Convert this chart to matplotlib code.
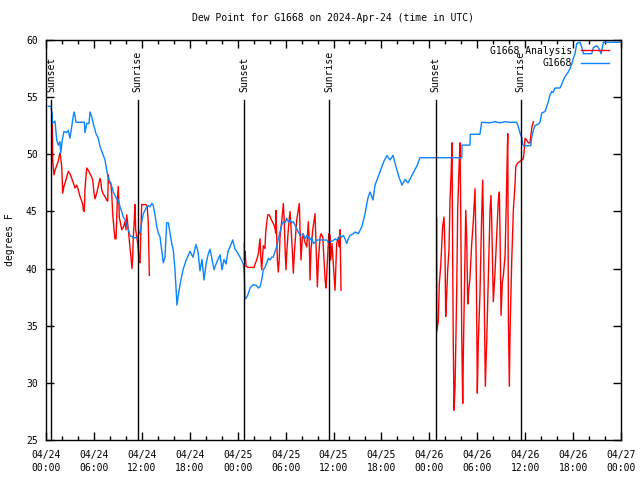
import datetime as dt
import numpy as np
import matplotlib
matplotlib.use("Agg")
import matplotlib.pyplot as plt
from matplotlib.ticker import MultipleLocator, FuncFormatter

# hours since 2024-04-24 00:00 UTC, dew point in degrees F
obs_hours = [0.29, 0.63, 0.79, 0.81, 1.13, 1.34, 1.54, 1.75, 1.84, 2.04, 2.25, 2.59, 2.79, 3.00,
             3.22, 3.42, 3.54, 3.76, 4.80, 4.88, 5.10, 5.38, 5.51, 5.72, 5.92, 6.26, 6.55, 6.76,
             7.18, 7.39, 7.60, 7.80, 8.01, 8.23, 8.43, 8.64, 8.85, 9.05, 9.27, 9.48, 9.68, 9.89,
             10.11, 10.31, 10.52, 10.73, 10.93, 11.36, 11.56, 11.77, 11.98, 12.18, 12.61, 12.81,
             13.02, 13.24, 13.40, 13.65, 13.86, 14.06, 14.27, 14.49, 14.69, 14.90, 15.11, 15.32,
             15.53, 15.74, 15.94, 16.15, 16.40, 16.53, 16.78, 17.16, 17.53, 18.03, 18.41, 18.78,
             19.03, 19.28, 19.53, 19.79, 20.04, 20.29, 20.54, 20.79, 21.04, 21.29, 21.54, 21.79,
             22.04, 22.29, 22.54, 22.79, 23.04, 23.38, 23.67, 23.88, 24.29, 24.51, 24.71, 24.83,
             24.92, 25.13, 25.33, 25.55, 25.96, 26.38, 26.59, 26.80, 27.01, 27.21, 27.42, 27.64,
             27.84, 28.05, 28.26, 28.46, 28.68, 28.89, 29.09, 29.30, 29.51, 29.72, 29.93, 30.14,
             30.34, 30.55, 30.77, 30.97, 31.18, 31.39, 31.59, 31.81, 32.22, 32.43, 32.65, 32.85,
             33.06, 33.27, 33.48, 33.69, 33.90, 35.15, 35.35, 35.98, 36.19, 36.40, 36.61, 36.82,
             37.03, 37.24, 37.44, 37.65, 37.85, 38.07, 38.48, 38.69, 39.11, 39.57, 39.95, 40.32,
             40.57, 40.95, 41.20, 41.57, 41.95, 42.32, 42.70, 43.07, 43.45, 43.83, 44.20, 44.58,
             44.96, 45.33, 45.71, 46.08, 46.46, 46.83, 52.06, 52.10, 53.09, 53.13, 54.34, 54.55,
             55.60, 56.20, 56.85, 57.48, 58.10, 58.94, 59.15, 59.36, 59.57, 59.69, 59.77, 60.69,
             60.82, 61.03, 61.23, 61.65, 61.86, 62.07, 62.49, 62.70, 62.90, 63.11, 63.33, 63.49,
             63.74, 64.36, 64.57, 64.78, 64.99, 65.20, 65.40, 65.62, 65.83, 66.03, 66.24, 66.46,
             66.87, 67.21, 67.28, 68.33, 68.54, 68.96, 69.29, 69.50, 69.71, 69.79, 71.88]
obs_dewpt = [54.2, 54.2, 53.4, 52.7, 52.9, 51.25, 50.8, 51.1, 50.1, 51.25, 52.0, 51.9, 52.1, 51.4,
             52.4, 53.4, 53.7, 52.8, 52.8, 51.9, 52.7, 52.7, 53.7, 53.3, 52.7, 51.8, 51.4, 50.7,
             49.9, 49.5, 48.6, 47.9, 47.6, 47.2, 46.7, 46.4, 46.1, 46.0, 45.4, 45.0, 44.5, 44.3,
             43.8, 43.4, 42.9, 42.8, 42.7, 42.7, 42.9, 43.2, 44.0, 44.8, 45.4, 45.5,
             45.4, 45.7, 45.6, 44.7, 43.7, 43.1, 42.8, 41.6, 40.5, 41.0, 44.0, 44.0,
             43.1, 42.2, 41.6, 39.9, 36.8, 37.5, 38.6, 39.9, 40.7, 41.5, 41.0, 42.1,
             41.5, 39.8, 40.8, 39.0, 40.4, 41.2, 41.7, 40.8, 39.9, 40.4, 40.8, 41.2,
             39.9, 40.8, 40.4, 41.5, 41.9, 42.5, 41.7, 41.5, 41.0, 40.7, 40.4, 39.5,
             37.3, 37.5, 37.8, 38.3, 38.6, 38.5, 38.3, 38.4, 39.0, 39.9, 40.1, 40.5,
             40.9, 40.75, 41.0, 41.0, 41.5, 41.9, 42.6, 43.2, 43.8, 44.1, 44.0, 44.4,
             44.1, 44.25, 44.0, 44.1, 43.8, 43.5, 43.2, 42.9, 43.05, 42.6, 42.9, 42.75,
             42.5, 42.75, 42.2, 42.3, 42.5, 42.5, 42.3, 42.45, 42.6, 42.5, 42.6, 42.9,
             42.75, 42.9, 42.6, 42.2, 42.6, 42.9, 43.05, 43.2, 43.05, 43.7, 44.8, 46.2,
             46.7, 46.0, 47.3, 48.0, 48.7, 49.4, 49.9, 49.5, 49.9, 48.9, 48.0, 47.3,
             47.8, 47.5, 48.0, 48.5, 49.0, 49.7, 49.7, 50.8, 50.8, 51.75, 51.75, 52.8,
             52.75, 52.85, 52.75, 52.85, 52.8, 52.8, 52.4, 51.85, 51.5, 50.9, 50.75, 50.75,
             51.5, 52.1, 52.5, 52.65, 52.8, 53.6, 53.75, 54.2, 54.6, 55.2, 55.5, 55.4,
             55.8, 55.8, 56.1, 56.5, 56.8, 57.0, 57.2, 57.5, 57.9, 58.4, 58.8, 59.7,
             59.8, 59.1, 58.8, 58.8, 59.35, 59.5, 59.2, 58.8, 59.5, 59.8, 59.8]

ana_hours = [0.79, 0.84, 1.00, 1.13, 1.34, 1.54, 1.67, 1.75, 1.84, 1.97, 2.04, 2.09, 2.25, 2.50,
             2.79, 3.00, 3.22, 3.42, 3.63, 3.84, 4.04, 4.26, 4.47, 4.60, 4.67, 4.80, 4.88, 4.97,
             5.10, 5.30, 5.51, 5.72, 5.85, 6.01, 6.14, 6.35, 6.55, 6.76, 6.89, 6.97, 7.18, 7.39,
             7.60, 7.73, 7.80, 7.93, 8.10, 8.23, 8.35, 8.52, 8.64, 8.77, 8.93, 9.05, 9.18, 9.35,
             9.48, 9.68, 9.89, 10.02, 10.11, 10.31, 10.52, 10.64, 10.77, 10.86, 10.93, 11.06,
             11.14, 11.23, 11.36, 11.48, 11.56, 11.65, 11.77, 11.86, 11.98, 12.52, 12.68, 12.81,
             12.94,
             np.nan,
             24.83, 24.85, 24.92, 25.05, 25.33, 26.05, 26.18, 26.38, 26.59, 26.72, 26.80, 26.89,
             27.01, 27.09, 27.21, 27.42, 27.51, 27.64, 27.76, 27.96, 28.14, 28.34, 28.55, 28.68,
             28.77, 28.80, 28.89, 28.97, 29.09, 29.22, 29.30, 29.51, 29.72, 29.84, 29.93, 30.05,
             30.14, 30.34, 30.55, 30.68, 30.84, 30.97, 31.09, 31.27, 31.39, 31.59, 31.72, 31.81,
             31.93, 32.10, 32.22, 32.43, 32.65, 32.85, 32.98, 33.06, 33.18, 33.40, 33.69, 33.82,
             33.98, 34.11, 34.32, 34.45, 34.66, 34.82, 34.95, 35.07, 35.24, 35.41, 35.57, 35.65,
             35.81, 35.90, 36.06, 36.19, 36.40, 36.61, 36.73, 36.82, 36.94,
             np.nan,
             48.92, 48.93, 49.12, 49.25, 49.43, 49.55, 49.67, 49.84, 49.96, 50.05, 50.17, 50.30,
             50.46, 50.59, 50.72, 50.84, 50.93, 51.00, 51.09, 51.22, 51.43, 51.55, 51.72, 51.84,
             51.93, 52.06, 52.18, 52.26, 52.38, 52.56, 52.68, 52.81, 52.93, 53.09, 53.30, 53.50,
             53.72, 53.84, 53.93, 54.01, 54.13, 54.34, 54.55, 54.68, 54.76, 54.88, 55.01, 55.19,
             55.39, 55.60, 55.72, 55.81, 55.94, 56.01, 56.22, 56.43, 56.64, 56.77, 56.85, 56.98,
             57.14, 57.27, 57.48, 57.61, 57.69, 57.77, 57.82, 57.90, 58.02, 58.11, 58.32, 58.52,
             58.74, 58.82, 59.02, 59.27, 59.57, 59.77, 59.89, 59.98, 60.19, 60.40, 60.61, 60.82,
             61.03]
ana_dewpt = [52.6, 49.4, 48.2, 48.6, 49.0, 49.4, 49.9, 50.1, 49.7, 48.9, 47.6, 46.6, 47.2, 47.75,
             48.5, 48.3, 47.9, 47.5, 47.05, 47.3, 46.9, 46.3, 45.9, 45.6, 45.1, 45.0, 46.9, 47.75,
             48.8, 48.6, 48.3, 48.0, 47.75, 46.6, 46.1, 46.6, 47.2, 47.9, 47.5, 46.9, 46.5, 46.3,
             46.0, 45.9, 48.2, 47.5, 47.5, 46.6, 44.8, 43.4, 42.6, 42.6, 46.0, 47.2, 44.5, 43.9,
             43.4, 43.6, 44.1, 43.4, 44.7, 43.4, 41.8, 41.0, 40.0, 41.0, 42.8, 44.25,
             45.6, 43.4, 42.8, 42.2, 41.6, 40.75, 40.5, 42.8, 45.6, 45.6, 45.4, 43.9,
             39.4,
             np.nan,
             42.2, 40.75, 41.5, 40.2, 40.1, 40.1, 40.4, 40.75, 41.3, 42.1, 42.6, 41.0,
             39.9, 40.75, 42.0, 41.75, 43.2, 44.0, 44.7, 44.7, 44.4, 44.1, 43.8, 43.5,
             43.1, 45.1, 42.75, 40.75, 39.7, 41.0, 42.75, 44.1, 45.7, 44.0, 41.9, 39.9,
             41.3, 43.4, 45.0, 43.7, 41.6, 39.6, 41.3, 43.1, 44.25, 45.1, 45.7, 43.4,
             40.75, 42.75, 42.9, 42.3, 41.9, 44.1, 41.9, 39.0, 41.6, 43.4, 44.8, 41.9,
             38.4, 40.75, 42.75, 43.05, 42.75, 40.75, 39.0, 38.3, 40.75, 43.05, 42.9, 40.75,
             42.2, 41.2, 39.4, 38.1, 42.2, 42.75, 41.9, 43.4, 38.1,
             np.nan,
             44.4, 34.5, 35.4, 38.7, 40.3, 42.1, 43.7, 44.5, 41.6, 35.8, 37.6, 39.9,
             41.6, 46.0, 48.2, 51.0, 40.1, 33.5, 27.6, 29.6, 38.1, 45.1, 48.9, 51.0,
             45.1, 34.0, 28.2, 32.6, 37.8, 45.1, 42.75, 36.9, 38.1, 39.2, 42.1, 44.1,
             47.0, 42.1, 36.3, 29.1, 33.5, 37.8, 44.5, 47.75, 44.5, 37.5, 29.7, 33.75,
             39.3, 45.1, 46.4, 44.25, 39.6, 37.1, 39.6, 42.75, 46.0, 46.7, 43.2, 35.9,
             38.8, 39.4, 41.1, 44.9, 47.75, 50.4, 51.8, 35.5, 29.7, 34.6, 40.75, 45.1,
             47.5, 48.9, 49.2, 49.35, 49.5, 49.6, 50.4, 51.4, 51.25, 51.0, 51.0, 52.3,
             52.85]

sun_hours = [0.63, 11.48, 24.83, 35.47, 48.8, 59.44]
sun_labels = ["Sunset", "Sunrise", "Sunset", "Sunrise", "Sunset", "Sunrise"]

start = dt.datetime(2024, 4, 24, 0, 0)
font = "DejaVu Sans Mono"
fs = 7

plt.rcParams["font.family"] = font
plt.rcParams["font.size"] = fs

fig = plt.figure(figsize=(6.4, 4.8), dpi=100)
ax = fig.add_axes([46 / 640, 40 / 480, 575 / 640, 400 / 480])

ax.plot(ana_hours, ana_dewpt, color="#ff0000", lw=1.0, label="G1668 Analysis")
ax.plot(obs_hours, obs_dewpt, color="#0a84ff", lw=1.0, label="G1668")

for h, lab in zip(sun_hours, sun_labels):
    ax.plot([h, h], [25, 54.75], color="black", lw=1.0, zorder=5)
    ax.text(h, 55.45, lab, rotation=90, ha="center", va="bottom", fontsize=fs)

ax.set_xlim(0, 72)
ax.set_ylim(25, 60)
ax.xaxis.set_major_locator(MultipleLocator(6))
ax.xaxis.set_minor_locator(MultipleLocator(2))
ax.yaxis.set_major_locator(MultipleLocator(5))


def fmt_time(x, pos):
    t = start + dt.timedelta(hours=x)
    return t.strftime("%m/%d\n%H:%M")


ax.xaxis.set_major_formatter(FuncFormatter(fmt_time))
ax.tick_params(which="major", direction="in", length=6, width=1, top=True, right=True,
               labelsize=fs, pad=6)
ax.tick_params(which="minor", direction="in", length=3, width=1, top=True, right=False)
ax.tick_params(axis="x", which="major", pad=7)
for lbl in ax.get_xticklabels():
    lbl.set_linespacing(1.35)
for sp in ax.spines.values():
    sp.set_linewidth(1.0)

ax.set_title("Dew Point for G1668 on 2024-Apr-24 (time in UTC)", fontsize=fs, pad=14)
fig.text(10 / 640, 0.5, "degrees F", rotation=90, ha="center", va="center", fontsize=fs)

ax.legend(loc="upper right", bbox_to_anchor=(1 - 6 / 575, 1), frameon=False,
          markerfirst=False, fontsize=fs, handlelength=2.9, handletextpad=0.9,
          borderaxespad=0.4, labelspacing=0.25, borderpad=0.2)

fig.savefig("out.png", dpi=100)
